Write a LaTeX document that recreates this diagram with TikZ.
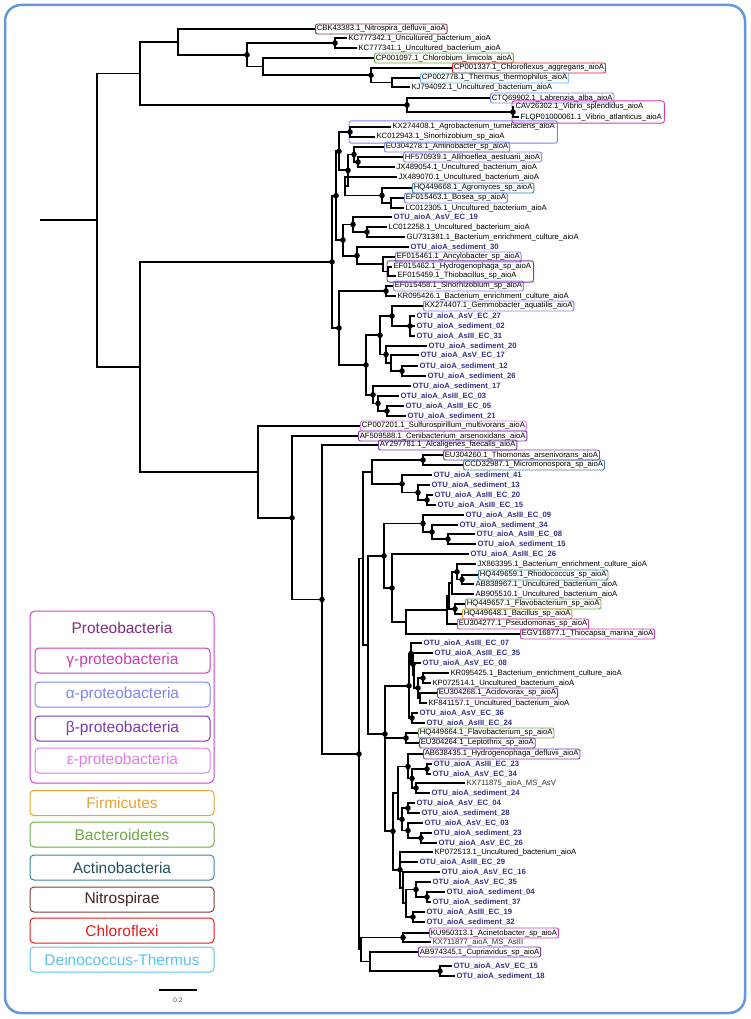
\documentclass[tikz,border=0pt]{standalone}
\usepackage{fontspec}
\setmainfont{Liberation Sans}
\usetikzlibrary{fit}
\definecolor{otublue}{RGB}{52,52,140}
\definecolor{msgreen}{RGB}{35,60,35}
\definecolor{nitroc}{RGB}{125,65,60}
\definecolor{bactc}{RGB}{110,170,70}
\definecolor{chlorc}{RGB}{225,30,30}
\definecolor{deinoc}{RGB}{90,195,240}
\definecolor{alphac}{RGB}{125,135,240}
\definecolor{gammac}{RGB}{205,60,185}
\definecolor{betac}{RGB}{125,55,175}
\definecolor{epsc}{RGB}{225,125,230}
\definecolor{actic}{RGB}{55,135,165}
\definecolor{firmc}{RGB}{230,165,50}
\definecolor{protc}{RGB}{200,70,200}
\definecolor{framec}{RGB}{100,150,220}
\newcommand{\lblfont}{\fontsize{7.7}{9}\selectfont}
\newcommand{\legfont}{\fontsize{15.5}{18}\selectfont}
\tikzset{
	br/.style={line width=1.8pt},
	lf/.style={anchor=west, inner sep=1.4pt, font=\lblfont},
	otu/.style={lf, font=\lblfont\bfseries, text=otublue},
	ms/.style={lf, text=msgreen},
	tag/.style={lf, draw=#1, rounded corners=2pt, line width=0.9pt},
	grp/.style={draw=#1, rounded corners=2.5pt, line width=0.9pt, inner sep=1pt},
	leg/.style={draw=#1, text=#1, font=\legfont, rounded corners=4pt, line width=1pt, minimum height=25pt, inner sep=0pt},
	baseline}

\begin{document}
\begin{tikzpicture}[x=1pt, y=-1pt]
	\useasboundingbox (0,0) rectangle (750,1019);
	\fill[white] (0,0) rectangle (750,1019);
	\draw[framec, line width=2.5pt, rounded corners=16pt] (5,5) rectangle (745,1013);
	
	% internal nodes of the tree
	\coordinate (rt0) at (40,220);
	\coordinate (rt) at (97,220);
	\coordinate (tA) at (140,73.5);
	\coordinate (tB) at (178,41.9);
	\coordinate (tC) at (247,54.8);
	\coordinate (tKC) at (335,43);
	\coordinate (tD) at (263,66.6);
	\coordinate (tE) at (371,75.3);
	\coordinate (tF) at (392,82.5);
	\coordinate (tG) at (407,105);
	\coordinate (tV) at (513,112);
	\coordinate (tL) at (140,366.9);
	
	\coordinate (a0) at (332,261.9);
	\coordinate (a1) at (336,195.7);
	\coordinate (a2) at (339,151.3);
	\coordinate (aAg) at (350,132);
	\coordinate (a3) at (348,170.4);
	\coordinate (aAm) at (354,154.5);
	\coordinate (aAl) at (358,162);
	\coordinate (aJx) at (345,186.3);
	\coordinate (aAy) at (382,195.5);
	\coordinate (aBo) at (391,203);
	\coordinate (a4) at (343,240);
	\coordinate (a5) at (353,224.5);
	\coordinate (a6) at (367,232);
	\coordinate (a7) at (357,255.6);
	\coordinate (a8) at (383,264.2);
	\coordinate (a9) at (388,271.5);
	\coordinate (b0) at (339,328);
	\coordinate (b1) at (386,291);
	\coordinate (b2) at (366,365);
	\coordinate (b3) at (380,335.3);
	\coordinate (b4) at (392,316);
	\coordinate (b5) at (410,326);
	\coordinate (b6) at (386,354.5);
	\coordinate (b7) at (391,363);
	\coordinate (b8) at (402,371);
	\coordinate (b9) at (373,394.8);
	\coordinate (b10) at (378,403.5);
	\coordinate (b11) at (387,411);
	
	\coordinate (c0) at (258,471.9);
	\coordinate (c1) at (292,517.8);
	\coordinate (c2) at (322,599.5);
	\coordinate (c3) at (359,754);
	\coordinate (q0) at (363,558.4);
	\coordinate (q1) at (372,471.9);
	\coordinate (q2) at (423,460);
	\coordinate (q3) at (402,483.8);
	\coordinate (q4) at (418,492.5);
	\coordinate (q5) at (427,500);
	\coordinate (r0) at (368,644.9);
	\coordinate (p0) at (384,555.8);
	\coordinate (p1) at (423,523.5);
	\coordinate (p2) at (432,532);
	\coordinate (p3) at (448,539);
	\coordinate (p4) at (392,588);
	\coordinate (p5) at (406,622);
	\coordinate (p6) at (447,610);
	\coordinate (p7) at (449,596);
	\coordinate (p8) at (452,583);
	\coordinate (p9) at (457,571.8);
	\coordinate (p9b) at (462,579.5);
	\coordinate (p10) at (455,609);
	\coordinate (s0) at (385,734);
	\coordinate (s1) at (409,685.8);
	\coordinate (s2) at (411,653.6);
	\coordinate (s3) at (413,664.3);
	\coordinate (s4) at (414,675.5);
	\coordinate (s4b) at (418,688);
	\coordinate (s4c) at (423,678);
	\coordinate (s4d) at (420,698);
	\coordinate (s5) at (412,718);
	\coordinate (s6) at (406,738);
	\coordinate (t0) at (393,831.3);
	\coordinate (t1) at (398,792.9);
	\coordinate (t2) at (408,766.5);
	\coordinate (t3) at (412,778.5);
	\coordinate (t3a) at (427,769);
	\coordinate (t3b) at (416,788);
	\coordinate (t5) at (402,819.3);
	\coordinate (t6) at (408,808);
	\coordinate (t7) at (408,830.5);
	\coordinate (t8) at (421,838);
	\coordinate (u0) at (400,869.8);
	\coordinate (u1) at (403,887.6);
	\coordinate (u2) at (406,903.3);
	\coordinate (u3) at (416,889.5);
	\coordinate (u4) at (427,897);
	\coordinate (u5) at (413,917);
	\coordinate (w0) at (361,949.5);
	\coordinate (w1) at (403,937.5);
	\coordinate (w2) at (370,961.5);
	\coordinate (w3) at (440,971);
	
	% leaves
	\node[tag=nitroc] (nitro) at (315,29) {CBK43383.1\_Nitrospira\_defluvii\_aioA};
	\node[lf] (kc42) at (347,38) {KC777342.1\_Uncultured\_bacterium\_aioA};
	\node[lf] (kc41) at (357,48) {KC777341.1\_Uncultured\_bacterium\_aioA};
	\node[tag=bactc] (chlb) at (374,58) {CP001097.1\_Chlorobium\_limicola\_aioA};
	\node[tag=chlorc] (chlf) at (452,68) {CP001337.1\_Chloroflexus\_aggregans\_aioA};
	\node[tag=deinoc] (therm) at (420,78) {CP002778.1\_Thermus\_thermophilus\_aioA};
	\node[lf] (kj92) at (410,87) {KJ794092.1\_Uncultured\_bacterium\_aioA};
	\node[tag=alphac] (labr) at (490,98) {CTQ69902.1\_Labrenzia\_alba\_aioA};
	\node[lf] (vspl) at (514,107) {CAV26302.1\_Vibrio\_splendidus\_aioA};
	\node[lf] (vatl) at (519,117) {FLQP01000061.1\_Vibrio\_atlanticus\_aioA};
	
	\node[lf] (agro) at (391,127) {KX274408.1\_Agrobacterium\_tumefaciens\_aioA};
	\node[lf] (sino43) at (375,137) {KC012943.1\_Sinorhizobium\_sp\_aioA};
	\node[tag=alphac] (amino) at (384,147) {EU304278.1\_Aminobacter\_sp\_aioA};
	\node[tag=alphac] (alli) at (403,157) {HF570939.1\_Allihoeflea\_aestuarii\_aioA};
	\node[lf] (jx54) at (395,167) {JX489054.1\_Uncultured\_bacterium\_aioA};
	\node[lf] (jx70) at (397,177) {JX489070.1\_Uncultured\_bacterium\_aioA};
	\node[tag=actic] (agromy) at (412,188) {HQ449668.1\_Agromyces\_sp\_aioA};
	\node[tag=alphac] (bosea) at (404,198) {EF015463.1\_Bosea\_sp\_aioA};
	\node[lf] (lc05) at (404,208) {LC012305.1\_Uncultured\_bacterium\_aioA};
	\node[otu] (ec19) at (392,217) {OTU\_aioA\_AsV\_EC\_19};
	\node[lf] (lc58) at (387,227) {LC012258.1\_Uncultured\_bacterium\_aioA};
	\node[lf] (gu81) at (405,237) {GU731381.1\_Bacterium\_enrichment\_culture\_aioA};
	\node[otu] (sed30) at (409,247) {OTU\_aioA\_sediment\_30};
	\node[tag=alphac] (ancy) at (395,257) {EF015461.1\_Ancylobacter\_sp\_aioA};
	\node[lf] (hydro) at (392,267) {EF015462.1\_Hydrogenophaga\_sp\_aioA};
	\node[lf] (thio) at (396,276) {EF015459.1\_Thiobacillus\_sp\_aioA};
	\node[tag=alphac] (sino58) at (393,286) {EF015458.1\_Sinorhizobium\_sp\_aioA};
	\node[lf] (kr26) at (396,296) {KR095426.1\_Bacterium\_enrichment\_culture\_aioA};
	\node[tag=alphac] (gemmo) at (423,306) {KX274407.1\_Gemmobacter\_aquatilis\_aioA};
	\node[otu] (ec27) at (415,316) {OTU\_aioA\_AsV\_EC\_27};
	\node[otu] (sed02) at (415,326) {OTU\_aioA\_sediment\_02};
	\node[otu] (ec31) at (415,336) {OTU\_aioA\_AsIII\_EC\_31};
	\node[otu] (sed20) at (427,346) {OTU\_aioA\_sediment\_20};
	\node[otu] (ec17) at (419,355) {OTU\_aioA\_AsV\_EC\_17};
	\node[otu] (sed12) at (418,366) {OTU\_aioA\_sediment\_12};
	\node[otu] (sed26) at (426,376) {OTU\_aioA\_sediment\_26};
	\node[otu] (sed17) at (411,386) {OTU\_aioA\_sediment\_17};
	\node[otu] (ec03) at (399,396) {OTU\_aioA\_AsIII\_EC\_03};
	\node[otu] (ec05) at (404,406) {OTU\_aioA\_AsIII\_EC\_05};
	\node[otu] (sed21) at (406,416) {OTU\_aioA\_sediment\_21};
	
	\node[tag=epsc] (sulf) at (360,426) {CP007201.1\_Sulfurospirillum\_multivorans\_aioA};
	\node[tag=betac] (ceni) at (358,436) {AF509588.1\_Cenibacterium\_arsenoxidans\_aioA};
	\node[tag=betac] (alca) at (378,445) {AY297781.1\_Alcaligenes\_faecalis\_aioA};
	\node[tag=betac] (thmo) at (443,455) {EU304260.1\_Thiomonas\_arsenivorans\_aioA};
	\node[tag=actic] (micr) at (463,465) {CCD32987.1\_Micromonospora\_sp\_aioA};
	\node[otu] (sed41) at (432,475) {OTU\_aioA\_sediment\_41};
	\node[otu] (sed13) at (430,485) {OTU\_aioA\_sediment\_13};
	\node[otu] (ec20) at (433,495) {OTU\_aioA\_AsIII\_EC\_20};
	\node[otu] (ec15) at (436,505) {OTU\_aioA\_AsIII\_EC\_15};
	\node[otu] (ec09) at (464,515) {OTU\_aioA\_AsIII\_EC\_09};
	\node[otu] (sed34) at (458,525) {OTU\_aioA\_sediment\_34};
	\node[otu] (ec08) at (475,534) {OTU\_aioA\_AsIII\_EC\_08};
	\node[otu] (sed15) at (476,544) {OTU\_aioA\_sediment\_15};
	\node[otu] (ec26) at (469,554) {OTU\_aioA\_AsIII\_EC\_26};
	\node[lf] (jx95) at (476,564) {JX863395.1\_Bacterium\_enrichment\_culture\_aioA};
	\node[tag=actic] (rhod) at (478,575) {HQ449659.1\_Rhodococcus\_sp\_aioA};
	\node[lf] (ab67) at (474,584) {AB838967.1\_Uncultured\_bacterium\_aioA};
	\node[lf] (ab10) at (474,594) {AB905510.1\_Uncultured\_bacterium\_aioA};
	\node[tag=bactc] (flv57) at (465,604) {HQ449657.1\_Flavobacterium\_sp\_aioA};
	\node[tag=firmc] (baci) at (462,614) {HQ449648.1\_Bacillus\_sp\_aioA};
	\node[tag=gammac] (pseu) at (457,624) {EU304277.1\_Pseudomonas\_sp\_aioA};
	\node[tag=gammac] (thca) at (520,634) {EGV16877.1\_Thiocapsa\_marina\_aioA};
	\node[otu] (ec07) at (422,643) {OTU\_aioA\_AsIII\_EC\_07};
	\node[otu] (ec35) at (433,653) {OTU\_aioA\_AsIII\_EC\_35};
	\node[otu] (vec08) at (421,663) {OTU\_aioA\_AsV\_EC\_08};
	\node[lf] (kr25) at (449,673) {KR095425.1\_Bacterium\_enrichment\_culture\_aioA};
	\node[lf] (kp14) at (431,683) {KP072514.1\_Uncultured\_bacterium\_aioA};
	\node[tag=betac] (acid) at (437,693) {EU304268.1\_Acidovorax\_sp\_aioA};
	\node[lf] (kf57) at (427,703) {KF841157.1\_Uncultured\_bacterium\_aioA};
	\node[otu] (ec36) at (418,713) {OTU\_aioA\_AsV\_EC\_36};
	\node[otu] (ec24) at (425,723) {OTU\_aioA\_AsIII\_EC\_24};
	\node[tag=bactc] (flv64) at (418,733) {HQ449664.1\_Flavobacterium\_sp\_aioA};
	\node[tag=betac] (lept) at (419,743) {EU304264.1\_Leptothrix\_sp\_aioA};
	\node[tag=betac] (hdef) at (423,754) {AB638435.1\_Hydrogenophaga\_defluvii\_aioA};
	\node[otu] (ec23) at (432,764) {OTU\_aioA\_AsIII\_EC\_23};
	\node[otu] (ec34) at (431,774) {OTU\_aioA\_AsV\_EC\_34};
	\node[ms] (kx75) at (465,783) {KX711875\_aioA\_MS\_AsV};
	\node[otu] (sed24) at (430,793) {OTU\_aioA\_sediment\_24};
	\node[otu] (vec04) at (415,803) {OTU\_aioA\_AsV\_EC\_04};
	\node[otu] (sed28) at (420,813) {OTU\_aioA\_sediment\_28};
	\node[otu] (vec03) at (423,823) {OTU\_aioA\_AsV\_EC\_03};
	\node[otu] (sed23) at (432,833) {OTU\_aioA\_sediment\_23};
	\node[otu] (vec26) at (437,843) {OTU\_aioA\_AsV\_EC\_26};
	\node[lf] (kp13) at (433,852) {KP072513.1\_Uncultured\_bacterium\_aioA};
	\node[otu] (ec29) at (418,862) {OTU\_aioA\_AsIII\_EC\_29};
	\node[otu] (vec16) at (440,872) {OTU\_aioA\_AsV\_EC\_16};
	\node[otu] (vec35) at (431,882) {OTU\_aioA\_AsV\_EC\_35};
	\node[otu] (sed04) at (445,892) {OTU\_aioA\_sediment\_04};
	\node[otu] (sed37) at (431,902) {OTU\_aioA\_sediment\_37};
	\node[otu] (ec19b) at (425,912) {OTU\_aioA\_AsIII\_EC\_19};
	\node[otu] (sed32) at (425,922) {OTU\_aioA\_sediment\_32};
	\node[tag=gammac] (acin) at (429,933) {KU950313.1\_Acinetobacter\_sp\_aioA};
	\node[ms] (kx77) at (431,942) {KX711877\_aioA\_MS\_AsIII};
	\node[tag=betac] (cupr) at (418,952) {AB974345.1\_Cupriavidus\_sp\_aioA};
	\node[otu] (vec15) at (452,966) {OTU\_aioA\_AsV\_EC\_15};
	\node[otu] (sed18) at (455,976) {OTU\_aioA\_sediment\_18};
	
	% boxes round two leaves
	\node[grp=alphac, fit=(aAg)(agro)(sino43)] {};
	\node[grp=gammac, fit=(tV)(vspl)(vatl)] {};
	\node[grp=betac, fit=(a9)(hydro)(thio)] {};
	
	% branches
	\draw[br] (rt0) -- (rt);
	\draw[br] (rt) |- (tA) (rt) |- (tL);
	\draw[br] (tA) |- (tB) (tA) |- (tG);
	\draw[br] (tB) |- (nitro.west) (tB) |- (tC);
	\draw[br] (tC) |- (tKC) (tC) |- (tD);
	\draw[br] (tKC) |- (kc42.west) (tKC) |- (kc41.west);
	\draw[br] (tD) |- (chlb.west) (tD) |- (tE);
	\draw[br] (tE) |- (chlf.west) (tE) |- (tF);
	\draw[br] (tF) |- (therm.west) (tF) |- (kj92.west);
	\draw[br] (tG) |- (labr.west) (tG) |- (tV);
	\draw[br] (tV) |- (vspl.west) (tV) |- (vatl.west);
	
	\draw[br] (tL) |- (a0) (tL) |- (c0);
	\draw[br] (a0) |- (a1) (a0) |- (b0);
	\draw[br] (a1) |- (a2) (a1) |- (a4);
	\draw[br] (a2) |- (aAg) (a2) |- (a3);
	\draw[br] (aAg) |- (agro.west) (aAg) |- (sino43.west);
	\draw[br] (a3) |- (aAm) (a3) |- (aJx);
	\draw[br] (aAm) |- (amino.west) (aAm) |- (aAl);
	\draw[br] (aAl) |- (alli.west) (aAl) |- (jx54.west);
	\draw[br] (aJx) |- (jx70.west) (aJx) |- (aAy);
	\draw[br] (aAy) |- (agromy.west) (aAy) |- (aBo);
	\draw[br] (aBo) |- (bosea.west) (aBo) |- (lc05.west);
	\draw[br] (a4) |- (a5) (a4) |- (a7);
	\draw[br] (a5) |- (ec19.west) (a5) |- (a6);
	\draw[br] (a6) |- (lc58.west) (a6) |- (gu81.west);
	\draw[br] (a7) |- (sed30.west) (a7) |- (a8);
	\draw[br] (a8) |- (ancy.west) (a8) |- (a9);
	\draw[br] (a9) |- (hydro.west) (a9) |- (thio.west);
	\draw[br] (b0) |- (b1) (b0) |- (b2);
	\draw[br] (b1) |- (sino58.west) (b1) |- (kr26.west);
	\draw[br] (b2) |- (b3) (b2) |- (b9);
	\draw[br] (b3) |- (b4) (b3) |- (b6);
	\draw[br] (b4) |- (gemmo.west) (b4) |- (b5);
	\draw[br] (b5) |- (ec27.west) (b5) |- (sed02.west) (b5) |- (ec31.west);
	\draw[br] (b6) |- (sed20.west) (b6) |- (b7);
	\draw[br] (b7) |- (ec17.west) (b7) |- (b8);
	\draw[br] (b8) |- (sed12.west) (b8) |- (sed26.west);
	\draw[br] (b9) |- (sed17.west) (b9) |- (b10);
	\draw[br] (b10) |- (ec03.west) (b10) |- (b11);
	\draw[br] (b11) |- (ec05.west) (b11) |- (sed21.west);
	
	\draw[br] (c0) |- (sulf.west) (c0) |- (c1);
	\draw[br] (c1) |- (ceni.west) (c1) |- (c2);
	\draw[br] (c2) |- (alca.west) (c2) |- (c3);
	\draw[br] (c3) |- (q0) (c3) |- (w0);
	\draw[br] (q0) |- (q1) (q0) |- (r0);
	\draw[br] (q1) |- (q2) (q1) |- (q3);
	\draw[br] (q2) |- (thmo.west) (q2) |- (micr.west);
	\draw[br] (q3) |- (sed41.west) (q3) |- (q4);
	\draw[br] (q4) |- (sed13.west) (q4) |- (q5);
	\draw[br] (q5) |- (ec20.west) (q5) |- (ec15.west);
	\draw[br] (r0) |- (p0) (r0) |- (s0);
	\draw[br] (p0) |- (p1) (p0) |- (p4);
	\draw[br] (p1) |- (ec09.west) (p1) |- (p2);
	\draw[br] (p2) |- (sed34.west) (p2) |- (p3);
	\draw[br] (p3) |- (ec08.west) (p3) |- (sed15.west);
	\draw[br] (p4) |- (ec26.west) (p4) |- (p5);
	\draw[br] (p5) |- (p6) (p5) |- (thca.west);
	\draw[br] (p6) |- (p7) (p6) |- (pseu.west);
	\draw[br] (p7) |- (p8) (p7) |- (p10);
	\draw[br] (p8) |- (p9) (p8) |- (ab10.west);
	\draw[br] (p9) |- (jx95.west) (p9) |- (p9b);
	\draw[br] (p9b) |- (rhod.west) (p9b) |- (ab67.west);
	\draw[br] (p10) |- (flv57.west) (p10) |- (baci.west);
	\draw[br] (s0) |- (s1) (s0) |- (s6) (s0) |- (t0);
	\draw[br] (s1) |- (s2) (s1) |- (s5);
	\draw[br] (s2) |- (ec07.west) (s2) |- (s3);
	\draw[br] (s3) |- (ec35.west) (s3) |- (s4);
	\draw[br] (s4) |- (vec08.west) (s4) |- (s4b);
	\draw[br] (s4b) |- (s4c) (s4b) |- (s4d);
	\draw[br] (s4c) |- (kr25.west) (s4c) |- (kp14.west);
	\draw[br] (s4d) |- (acid.west) (s4d) |- (kf57.west);
	\draw[br] (s5) |- (ec36.west) (s5) |- (ec24.west);
	\draw[br] (s6) |- (flv64.west) (s6) |- (lept.west);
	\draw[br] (t0) |- (t1) (t0) |- (u0);
	\draw[br] (t1) |- (t2) (t1) |- (t5);
	\draw[br] (t2) |- (hdef.west) (t2) |- (t3);
	\draw[br] (t3) |- (t3a) (t3) |- (t3b);
	\draw[br] (t3a) |- (ec23.west) (t3a) |- (ec34.west);
	\draw[br] (t3b) |- (kx75.west) (t3b) |- (sed24.west);
	\draw[br] (t5) |- (t6) (t5) |- (t7);
	\draw[br] (t6) |- (vec04.west) (t6) |- (sed28.west);
	\draw[br] (t7) |- (vec03.west) (t7) |- (t8);
	\draw[br] (t8) |- (sed23.west) (t8) |- (vec26.west);
	\draw[br] (u0) |- (kp13.west) (u0) |- (ec29.west) (u0) |- (u1);
	\draw[br] (u1) |- (vec16.west) (u1) |- (u2);
	\draw[br] (u2) |- (u3) (u2) |- (u5);
	\draw[br] (u3) |- (vec35.west) (u3) |- (u4);
	\draw[br] (u4) |- (sed04.west) (u4) |- (sed37.west);
	\draw[br] (u5) |- (ec19b.west) (u5) |- (sed32.west);
	\draw[br] (w0) |- (w1) (w0) |- (w2);
	\draw[br] (w1) |- (acin.west) (w1) |- (kx77.west);
	\draw[br] (w2) |- (cupr.west) (w2) |- (w3);
	\draw[br] (w3) |- (vec15.west) (w3) |- (sed18.west);
	
	% support dots
	\foreach \n in {tKC,tC,tE,tG,tV,aAg,a0,a1,a2,a3,aAm,aAl,aAy,a4,a5,a6,a7,b0,b1,b2,b3,b4,b5,b6,b8,b9,b10,b11,c1,c2,c3,q2,q3,q4,q5,p0,p1,p2,p3,p4,p9,p9b,p10,s0,s1,s2,s3,s4b,s4c,s5,s6,t0,t2,t3,t3a,t3b,t5,t6,t7,t8,u0,u3,u4,u5,w1,w3}
		\fill (\n) circle (2.8pt);
	
	% legend
	\draw[protc, line width=1pt, rounded corners=5pt] (30,611) rectangle (214,783);
	\node[text=protc!65!black, font=\legfont] (lprot) at (122,628) {Proteobacteria};
	\node[leg=gammac, minimum width=175pt] (lgam) at (122.5,660.5) {γ-proteobacteria};
	\node[leg=alphac, minimum width=175pt] (lalp) at (122.5,694.5) {α-proteobacteria};
	\node[leg=betac, minimum width=175pt] (lbet) at (122.5,728.5) {β-proteobacteria};
	\node[leg=epsc, minimum width=175pt] (leps) at (122.5,760.5) {ε-proteobacteria};
	\node[leg=firmc, minimum width=184pt] (lfir) at (122,803) {Firmicutes};
	\node[leg=bactc, minimum width=184pt] (lbac) at (122,834.5) {Bacteroidetes};
	\node[leg=actic, text=actic!60!black, minimum width=184pt] (lact) at (122,867.5) {Actinobacteria};
	\node[leg=nitroc, text=nitroc!55!black, minimum width=184pt] (lnit) at (122,899.5) {Nitrospirae};
	\node[leg=chlorc, minimum width=184pt] (lchl) at (122,930.5) {Chloroflexi};
	\node[leg=deinoc, minimum width=184pt] (ldei) at (122,959.5) {Deinococcus-Thermus};
	
	% scale bar
	\coordinate (sb0) at (159,990);
	\coordinate (sb1) at (197,990);
	\draw[line width=1.5pt] (sb0) -- (sb1);
	\node[font=\fontsize{6.5}{8}\selectfont, text=black!70] (sbl) at (178,1000) {0.2};
\end{tikzpicture}
\end{document}
